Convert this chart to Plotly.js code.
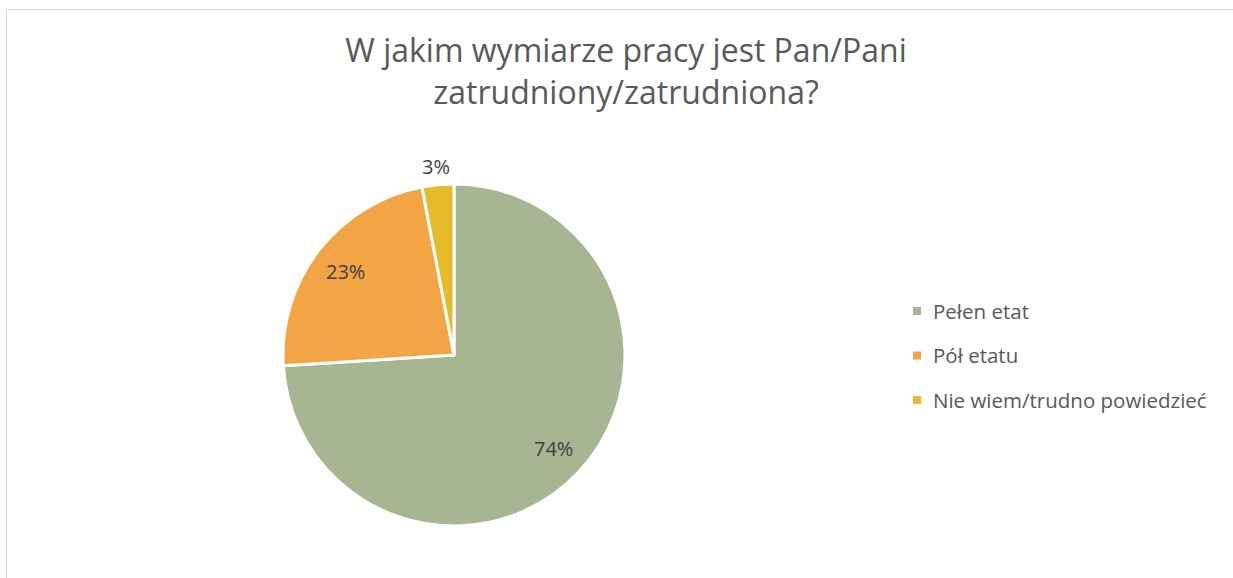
<!DOCTYPE html>
<html>
<head>
<meta charset="utf-8">
<script src="https://cdn.plot.ly/plotly-3.0.1.min.js"></script>
<style>
html,body{margin:0;padding:0;background:#fff;}
#wrap{position:relative;width:1233px;height:578px;overflow:hidden;}
#frame{position:absolute;left:6px;top:9px;width:1300px;height:700px;border:1.5px solid #d9d9d9;box-sizing:border-box;pointer-events:none;z-index:5;}
#chart{position:absolute;left:0;top:0;width:1233px;height:578px;}
</style>
</head>
<body>
<div id="wrap"><div id="chart"></div><div id="frame"></div></div>
<script>
const labels = ["Pełen etat", "Pół etatu", "Nie wiem/trudno powiedzieć"];
const values = [74, 23, 3];
const colors = ["#A7B593", "#F3A444", "#E6BB2A"];
const titleText = "W jakim wymiarze pracy jest Pan/Pani<br>zatrudniony/zatrudniona?";

const W = 1233, H = 578;
const cx = 454, cy = 355, R = 171;
const FONT = "Open Sans, sans-serif";

const trace = {
  type: "pie",
  labels: labels,
  values: values,
  sort: false,
  direction: "clockwise",
  rotation: 0,
  marker: {colors: colors, line: {color: "#ffffff", width: 3}},
  textinfo: "none",
  domain: {
    x: [(cx - R) / W, (cx + R) / W],
    y: [(H - cy - R) / H, (H - cy + R) / H]
  },
  showlegend: false,
  hoverinfo: "label+percent"
};

const shapes = [], annotations = [];

// percent labels, placed along each slice's mid-angle
const total = values.reduce((a, b) => a + b, 0);
const labelRadius = values.map(v => (v / total < 0.05 ? 1.11 : 0.8));
let cum = 0;
values.forEach((v, i) => {
  const mid = (cum + v / 2) / total * 2 * Math.PI;
  cum += v;
  const px = cx + Math.sin(mid) * R * labelRadius[i];
  const py = cy - Math.cos(mid) * R * labelRadius[i];
  annotations.push({
    xref: "paper", yref: "paper", x: px / W, y: (H - py) / H,
    xanchor: "center", yanchor: "middle", showarrow: false,
    text: Math.round(v / total * 100) + "%",
    font: {family: FONT, size: 20, color: "#404040"}
  });
});

// custom legend (spacing like the original)
const legX = 917, legY0 = 311, legGap = 44.5, sq = 8;
labels.forEach((lab, i) => {
  const y = legY0 + i * legGap;
  shapes.push({
    type: "rect", xref: "paper", yref: "paper",
    x0: (legX - sq / 2) / W, x1: (legX + sq / 2) / W,
    y0: (H - y - sq / 2) / H, y1: (H - y + sq / 2) / H,
    fillcolor: colors[i], line: {width: 0}
  });
  annotations.push({
    xref: "paper", yref: "paper", x: 931 / W, y: (H - y) / H,
    xanchor: "left", yanchor: "middle", showarrow: false,
    text: lab,
    font: {family: FONT, size: 20.5, color: "#595959"}
  });
});

const layout = {
  width: W, height: H,
  margin: {l: 0, r: 0, t: 0, b: 0},
  paper_bgcolor: "#ffffff",
  title: {
    text: titleText,
    x: 626 / W, xanchor: "center",
    y: 1 - 62 / H, yanchor: "top",
    font: {family: FONT, size: 32, color: "#595959"}
  },
  shapes: shapes,
  annotations: annotations,
  showlegend: false
};

Plotly.newPlot("chart", [trace], layout, {displayModeBar: false, staticPlot: true});
</script>
</body>
</html>
